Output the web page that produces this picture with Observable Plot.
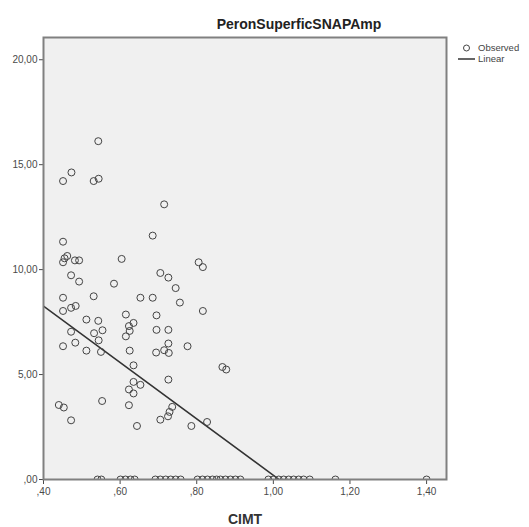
<!DOCTYPE html>
<html><head><meta charset="utf-8">
<script src="https://cdn.jsdelivr.net/npm/d3@7"></script>
<script src="https://cdn.jsdelivr.net/npm/@observablehq/plot@0.6"></script>
<style>body{margin:0;background:#fff;} svg{display:block}</style>
</head><body><div id="chart"></div>
<script>
// Observed values: CIMT (x) and PeronSuperficSNAPAmp (y)
const cimt = [
  0.543,0.473,0.451,0.531,0.544,0.715,0.685,0.451,0.462,0.455,0.451,0.482,0.493,0.604,0.805,0.816,
  0.472,0.493,0.584,0.705,0.726,0.745,0.451,0.531,0.653,0.685,0.756,0.816,0.451,0.472,0.484,0.512,
  0.543,0.554,0.532,0.472,0.615,0.635,0.623,0.625,0.615,0.695,0.695,0.726,0.726,0.694,0.715,0.727,
  0.776,0.451,0.483,0.512,0.544,0.550,0.625,0.635,0.867,0.877,0.726,0.635,0.653,0.623,0.635,0.440,
  0.453,0.553,0.623,0.736,0.729,0.725,0.705,0.472,0.644,0.786,0.827,
  0.541,0.551,0.601,0.614,0.627,0.638,0.692,0.705,0.719,0.732,0.745,0.758,0.802,0.815,0.828,0.841,
  0.852,0.862,0.875,0.888,0.901,0.914,0.987,1.000,1.014,1.027,1.040,1.053,1.066,1.079,1.095,1.162,1.400
];
const snapAmp = [
  16.12,14.63,14.22,14.22,14.33,13.11,11.62,11.33,10.65,10.54,10.35,10.44,10.44,10.51,10.35,10.12,
  9.73,9.43,9.33,9.84,9.62,9.12,8.66,8.73,8.66,8.66,8.43,8.03,8.03,8.18,8.27,7.62,
  7.56,7.11,6.97,7.04,7.86,7.46,7.31,7.08,6.82,7.82,7.13,7.13,6.48,6.05,6.16,6.03,
  6.35,6.35,6.52,6.14,6.63,6.08,6.14,5.44,5.36,5.24,4.76,4.65,4.51,4.29,4.10,3.55,
  3.43,3.74,3.54,3.46,3.22,3.01,2.85,2.82,2.55,2.55,2.74,
  0,0,0,0,0,0,0,0,0,0,0,0,0,0,0,0,
  0,0,0,0,0,0,0,0,0,0,0,0,0,0,0,0,0
];
// Linear fit coefficients
const fitIntercept = 13.64;
const fitSlope = -13.44;

const xTicks = [0.4, 0.6, 0.8, 1.0, 1.2, 1.4];
const xTickLabels = [",40", ",60", ",80", "1,00", "1,20", "1,40"];
const yTicks = [0, 5, 10, 15, 20];
const yTickLabels = [",00", "5,00", "10,00", "15,00", "20,00"];
const xDomain = [0.40, 1.452];
const yDomain = [0, 21.06];

const titleText = "PeronSuperficSNAPAmp";
const xLabelText = "CIMT";
const legendLabels = ["Observed", "Linear"];

const observed = cimt.map((x, i) => ({x, y: snapAmp[i]}));
const fitData = [xDomain[0], xTicks[xTicks.length - 1]].map(x => ({x, y: fitIntercept + fitSlope * x}));

const font = "'Liberation Sans', Arial, sans-serif";

const svg = Plot.plot({
  width: 529, height: 527,
  marginLeft: 43, marginRight: 83, marginTop: 37, marginBottom: 48,
  x: {domain: xDomain},
  y: {domain: yDomain},
  style: {fontFamily: font, fontSize: "10px", color: "#4a4a4a", background: "#fff"},
  marks: [
    Plot.frame({fill: "#f0f0f0", stroke: null}),
    Plot.axisX({ticks: xTicks, tickFormat: d => xTickLabels[xTicks.indexOf(d)], tickSize: 5, tickPadding: 3, label: null}),
    Plot.axisY({ticks: yTicks, tickFormat: d => yTickLabels[yTicks.indexOf(d)], tickSize: 4, tickPadding: 2, label: null}),
    Plot.line(fitData, {x: "x", y: "y", stroke: "#333", strokeWidth: 1.5, clip: true}),
    Plot.dot(observed, {x: "x", y: "y", r: 3.5, stroke: "#444", strokeWidth: 1, fill: "none", clip: true}),
    Plot.frame({stroke: "#808080", strokeWidth: 2})
  ]
});

const s = d3.select(svg);
s.append("text").attr("x", 299).attr("y", 29).attr("text-anchor", "middle")
  .attr("font-family", font).attr("font-size", 14).attr("font-weight", "bold").attr("fill", "#222")
  .text(titleText);
s.append("text").attr("x", 245).attr("y", 524).attr("text-anchor", "middle")
  .attr("font-family", font).attr("font-size", 14).attr("font-weight", "bold").attr("fill", "#333")
  .text(xLabelText);
// legend
s.append("circle").attr("cx", 466.5).attr("cy", 48).attr("r", 3).attr("fill", "none").attr("stroke", "#444");
s.append("line").attr("x1", 458).attr("x2", 475).attr("y1", 59).attr("y2", 59).attr("stroke", "#333").attr("stroke-width", 1.5);
s.selectAll("text.leg").data(legendLabels).join("text").attr("class", "leg")
  .attr("x", 478).attr("y", (d, i) => 48 + i * 11).attr("dy", "0.35em")
  .attr("text-anchor", "start")
  .attr("font-family", font).attr("font-size", 9.5).attr("fill", "#444")
  .text(d => d);

document.getElementById("chart").appendChild(svg);
</script>
</body></html>
